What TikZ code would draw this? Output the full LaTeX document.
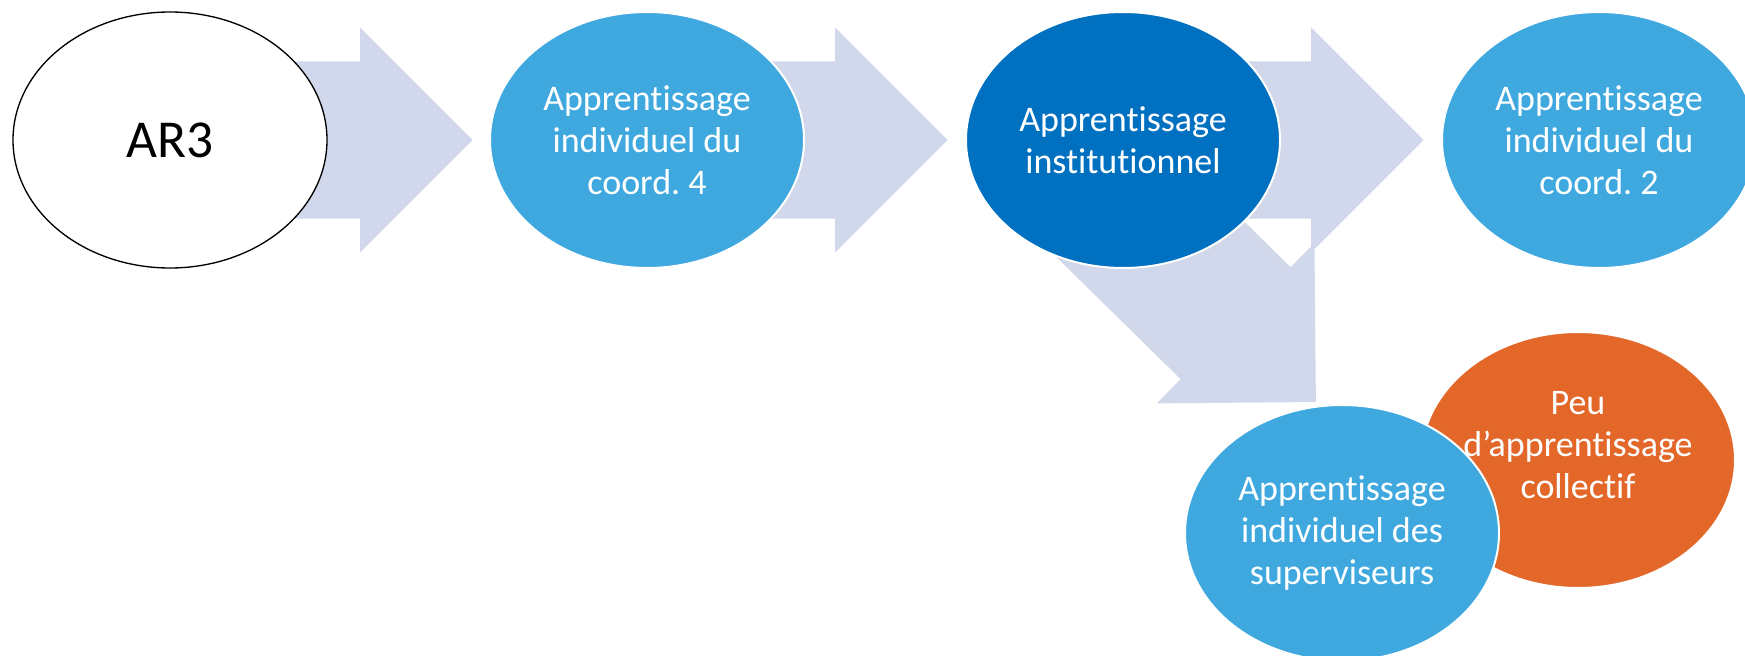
\documentclass[tikz,border=0pt]{standalone}
\usepackage{fontspec}
\setmainfont{Carlito}[RawFeature=-liga]
\usetikzlibrary{shapes.geometric,calc}
\definecolor{flowgrey}{HTML}{D2D8EB}
\definecolor{skyblue}{HTML}{3FA9DF}
\definecolor{deepblue}{HTML}{0070C0}
\definecolor{burnt}{HTML}{E36729}
\frenchspacing

\begin{document}
\begin{tikzpicture}[x=0.75pt,y=0.75pt]
\tikzstyle{every node}+=[inner sep=0pt]
\tikzstyle{bubble}=[ellipse, minimum width=235.5pt, minimum height=192pt, draw=white, line width=1.5pt, text=white, align=center, font=\fontsize{27}{31.5}\selectfont]
\tikzstyle{flow}=[fill=flowgrey]
\useasboundingbox (0,0) rectangle (1745,-656);
\coordinate (c1) at (170,-140);
\coordinate (c2) at (647,-140);
\coordinate (c3) at (1123,-140);
\coordinate (c4) at (1599,-140);
% block arrows
\fill [flow, shift={(c1)}] (0,78.5) -- (190,78.5) -- (190,112.5) -- (302.5,0) -- (190,-112.5) -- (190,-78.5) -- (0,-78.5) -- cycle;
\fill [flow, shift={(c2)}] (0,78.5) -- (188,78.5) -- (188,112.5) -- (300.5,0) -- (188,-112.5) -- (188,-78.5) -- (0,-78.5) -- cycle;
\fill [flow, shift={(c3)}] (0,78.5) -- (188,78.5) -- (188,112.5) -- (300.5,0) -- (188,-112.5) -- (188,-78.5) -- (0,-78.5) -- cycle;
\fill [flow, shift={($(c3)+(-30,-43)$)}, rotate=-44.5] (0,78.5) -- (200,78.5) -- (200,112.5) -- (312.5,0) -- (200,-112.5) -- (200,-78.5) -- (0,-78.5) -- cycle;
% bubbles
\node [bubble, fill=white, draw=black, line width=1pt, text=black, font=\fontsize{40}{48}\selectfont] (ar3) at (c1) {AR3};
\node [bubble, fill=skyblue] (coordq) at (c2) {Apprentissage\\individuel du\\coord. 4};
\node [bubble, fill=deepblue] (inst) at (c3) {Apprentissage\\institutionnel};
\node [bubble, fill=skyblue] (coordd) at (c4) {Apprentissage\\individuel du\\coord. 2};
\node [bubble, fill=burnt] (peu) at (1578,-460) {};
\node [text=white, align=center, font=\fontsize{27}{31.5}\selectfont] (peutxt) at ($(peu)+(0,15)$) {Peu\\d’apprentissage\\collectif};
\node [bubble, fill=skyblue] (superv) at (1342,-533) {Apprentissage\\individuel des\\superviseurs};
\end{tikzpicture}
\end{document}
